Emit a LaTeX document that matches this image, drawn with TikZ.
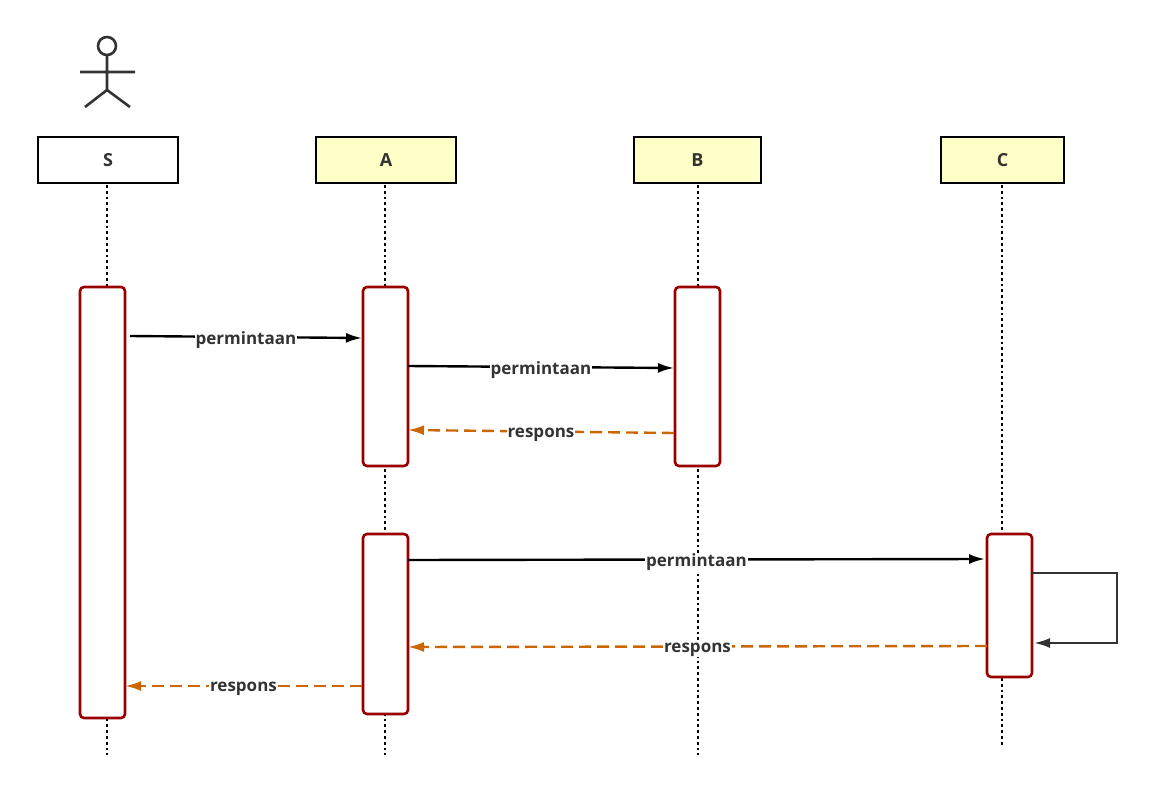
\documentclass[tikz,border=0pt]{standalone}
\usepackage{fontspec}
\setmainfont{Open Sans}
\usetikzlibrary{arrows.meta}
\definecolor{actred}{HTML}{990000}
\definecolor{resp}{HTML}{CC6600}
\definecolor{hdr}{HTML}{FFFFC8}
\begin{document}
\begin{tikzpicture}[x=1pt,y=-1pt,
  hbox/.style={draw,line width=2.5pt,minimum width=#1,minimum height=46pt,inner sep=0,font=\bfseries\fontsize{18}{18}\selectfont,text=black!80},
  act/.style={draw=actred,line width=2.6pt,fill=white,rounded corners=4pt,minimum width=45pt,inner sep=0},
  life/.style={line width=2.8pt,dash pattern=on 2.8pt off 3pt},
  req/.style={line width=2.4pt,-{Latex[length=16pt,width=10pt]}},
  rsp/.style={line width=2.4pt,resp,dash pattern=on 12pt off 6pt,-{Latex[length=16pt,width=10pt]}},
  lbl/.style={fill=white,inner sep=1pt,yshift=-3pt,font=\bfseries\fontsize{17}{17}\selectfont,text=black!80}]
\useasboundingbox (0,0) rectangle (1154,797);
% actor
\begin{scope}[line width=2.6pt,draw=black!80]
\draw (107,46) circle (9);
\draw (107,55) -- (107,90) (80,72) -- (135,72) (85,107) -- (107,90) -- (130,107);
\end{scope}
% headers
\node[hbox=140pt,fill=white] (S) at (108,160) {S};
\node[hbox=140pt,fill=hdr] (A) at (386,160) {A};
\node[hbox=127pt,fill=hdr] (B) at (697.5,160) {B};
\node[hbox=123pt,fill=hdr] (C) at (1002.5,160) {C};
\coordinate (Se) at (107,755);
\coordinate (Ae) at (385,755);
\coordinate (Be) at (698,755);
\coordinate (Ce) at (1002,745);
\draw[life] (107,185) -- (Se);
\draw[life] (385,185) -- (Ae);
\draw[life] (698,185) -- (Be);
\draw[life] (1002,185) -- (Ce);
% activations
\node[act,minimum height=431pt] (aS) at (102.5,502.5) {};
\node[act,minimum height=179pt] (aA1) at (385.5,376.5) {};
\node[act,minimum height=179pt] (aB) at (697.5,376.5) {};
\node[act,minimum height=180pt] (aA2) at (385.5,624) {};
\node[act,minimum height=143pt] (aC) at (1009.5,605.5) {};
% messages
\coordinate (m1a) at (130,336); \coordinate (m1b) at (362,338);
\draw[req] (m1a) -- node[lbl]{permintaan} (m1b);
\coordinate (m2a) at (408,366); \coordinate (m2b) at (674,368);
\draw[req] (m2a) -- node[lbl]{permintaan} (m2b);
\coordinate (m3a) at (674,433); \coordinate (m3b) at (408,430);
\draw[rsp] (m3a) -- node[lbl]{respons} (m3b);
\coordinate (m4a) at (408,560); \coordinate (m4b) at (985,559);
\draw[req] (m4a) -- node[lbl]{permintaan} (m4b);
\coordinate (m5a) at (987,646); \coordinate (m5b) at (408,647);
\draw[rsp] (m5a) -- node[lbl]{respons} (m5b);
\coordinate (m6a) at (362,686); \coordinate (m6b) at (125,686);
\draw[rsp] (m6a) -- node[lbl]{respons} (m6b);
\coordinate (s1) at (1032,573); \coordinate (s2) at (1034,643);
\draw[req,black!80] (s1) -- (1117,573) -- (1117,643) -- (s2);
\end{tikzpicture}
\end{document}
